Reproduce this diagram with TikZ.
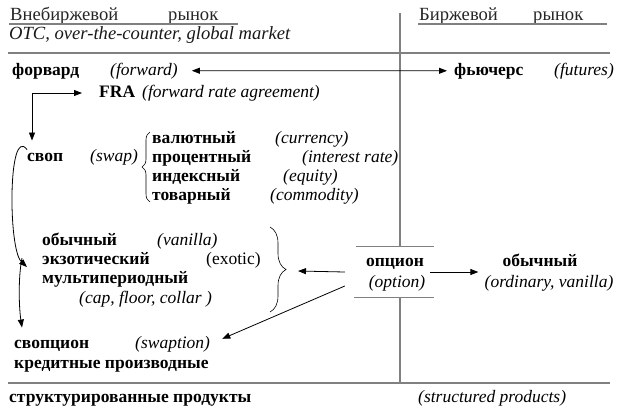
\documentclass[tikz,border=0pt]{standalone}
\usepackage{fontspec}
\setmainfont{Liberation Serif}
\usetikzlibrary{arrows.meta,decorations.pathreplacing}
\newcommand\fsz{\fontsize{17.5}{19}\selectfont}
\newcommand\hsz{\fontsize{18.6}{20}\selectfont}
\definecolor{lg}{HTML}{808080}
\begin{document}
\begin{tikzpicture}[x=1pt,y=-1pt,
  txt/.style={anchor=base west, inner sep=0pt, font=\fsz},
  bf/.style={txt, font=\fsz\bfseries},
  it/.style={txt, font=\fsz\itshape},
  hd/.style={txt, font=\hsz, text=black!85},
  hdit/.style={txt, font=\hsz\itshape, text=black!90},
  sep/.style={draw=lg, line width=1.8pt},
  vline/.style={draw=lg, line width=1.2pt},
  ul/.style={draw=lg, line width=1.4pt},
  arr/.style={draw=black, line width=0.8pt, -{Triangle[length=8pt,width=6pt]}},
  darr/.style={draw=black, line width=0.8pt, {Triangle[length=8pt,width=6pt]}-{Triangle[length=8pt,width=6pt]}},
  brc/.style={draw=black, line width=0.6pt, decorate}
]
\useasboundingbox (0,0) rectangle (618,408);

% headers
\node[hd] (h1a) at (10,20) {Внебиржевой};
\node[hd] (h1b) at (168,20) {рынок};
\node[hd] (h2a) at (419,20) {Биржевой};
\node[hd] (h2b) at (533,20) {рынок};
\draw[ul] (9,24) -- (238,24);
\draw[ul] (418,24) -- (607,24);
\node[hdit] (otc) at (9,39) {OTC, over-the-counter, global market};

% separators
\draw[sep] (8,53) -- (610,53);
\draw[sep] (8,383) -- (610,383);
\draw[vline] (400,13) -- (400,247);
\draw[vline] (400,297) -- (400,382);

% forward / futures
\node[bf] (fwd) at (12,75) {форвард};
\node[it] (fwdEn) at (110,75) {(forward)};
\node[bf] (fut) at (454,75) {фьючерс};
\node[it] (futEn) at (554,75) {(futures)};
\draw[darr] ([xshift=14pt]fwdEn.east) -- ([xshift=-7pt]fut.west);

% FRA
\node[bf] (fra) at (99,97) {FRA};
\node[it] (fraEn) at (142,97) {(forward rate agreement)};

% swap
\node[bf] (swap) at (27,161) {своп};
\node[it] (swapEn) at (90,161) {(swap)};
\coordinate (elb) at (32,93);
\draw[darr] ([yshift=12pt]elb |- swap.north) -- (elb) -- ([xshift=-17pt]elb -| fra.west);

\draw[brc, decoration={brace, amplitude=8pt}] (150,202) -- (150,132);
\node[bf] (cur) at (152,143) {валютный};
\node[it] (curEn) at (275,143) {(currency)};
\node[bf] (irt) at (152,162) {процентный};
\node[it] (irtEn) at (302,162) {(interest rate)};
\node[bf] (eq) at (152,181) {индексный};
\node[it] (eqEn) at (283,181) {(equity)};
\node[bf] (com) at (152,200) {товарный};
\node[it] (comEn) at (270,200) {(commodity)};

% option types
\node[bf] (van) at (42,245) {обычный};
\node[it] (vanEn) at (157,245) {(vanilla)};
\node[bf] (exo) at (42,264) {экзотический};
\node[txt] (exoEn) at (206,264) {(exotic)};
\node[bf] (mul) at (42,283) {мультипериодный};
\node[it] (mulEn) at (79,303) {(cap, floor, collar )};
\draw[brc, decoration={brace, amplitude=16pt}] (270,227) -- (270,312);
\coordinate (bt) at (287,271);

% option
\node[inner sep=0pt, minimum width=78pt, minimum height=50pt] (optbox) at (395,272) {};
\draw[vline] (optbox.north west) -- (optbox.north east);
\draw[vline] ([xshift=-2pt]optbox.south west) -- (optbox.south east);
\node[bf, anchor=base] (opt) at (395,266) {опцион};
\node[it, anchor=base] (optEn) at (397,287) {(option)};
\node[bf, anchor=base] (ord) at (540,266) {обычный};
\node[it, anchor=base] (ordEn) at (549,287) {(ordinary, vanilla)};
\draw[arr] ([xshift=-11pt]optbox.west) -- ([xshift=11pt]bt);
\draw[arr] ([xshift=-4pt]optbox.east) -- ([xshift=-24pt]optbox.east -| ord.west);

% swaption etc.
\node[bf] (swpt) at (14,348) {свопцион};
\node[it] (swptEn) at (135,348) {(swaption)};
\node[bf] (cred) at (14,368) {кредитные производные};
\draw[arr] ([xshift=-11pt,yshift=-14pt]optbox.west) -- ([xshift=12pt,yshift=5pt]swptEn.east);

% curved arrows
\draw[arr] ([yshift=3pt]swap.north west) .. controls +(-19,-25) and +(-19,-18) .. ([xshift=-15pt,yshift=-9pt]exo.west);
\draw[arr] ([xshift=-20pt]exo.west) .. controls +(-4,20) and +(-3,-20) .. ([xshift=8pt,yshift=12pt]swpt.north west);

% structured
\node[bf] (str) at (9,402) {структурированные продукты};
\node[it] (strEn) at (418,402) {(structured products)};
\end{tikzpicture}
\end{document}
